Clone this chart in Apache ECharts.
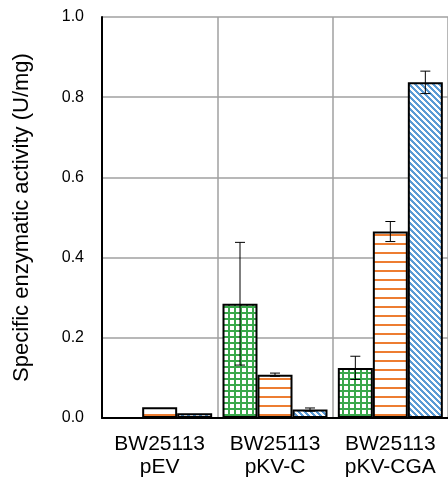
<!DOCTYPE html>
<html>
<head>
<meta charset="utf-8">
<script src="https://cdn.jsdelivr.net/npm/echarts@6/dist/echarts.min.js"></script>
<style>
html,body{margin:0;padding:0;background:#fff;}
#chart{width:448px;height:480px;}
</style>
</head>
<body>
<div id="chart"></div>
<script>
var categories = ['BW25113\npEV', 'BW25113\npKV-C', 'BW25113\npKV-CGA'];
var seriesNames = ['S1', 'S2', 'S3'];
var valuesGreen = [0, 0.285, 0.125];
var valuesOrange = [0.027, 0.108, 0.465];
var valuesBlue = [0.012, 0.021, 0.837];
var errGreen = [0, 0.153, 0.029];
var errOrange = [0, 0.004, 0.025];
var errBlue = [0, 0.004, 0.028];
var yTicks = [0, 0.2, 0.4, 0.6, 0.8, 1.0];

function makePattern(kind) {
  var c = document.createElement('canvas');
  var ctx;
  if (kind === 'grid') {
    c.width = 6; c.height = 6; ctx = c.getContext('2d');
    ctx.fillStyle = '#fff'; ctx.fillRect(0, 0, 6, 6);
    ctx.fillStyle = '#3aa84b';
    ctx.fillRect(0, 0, 2, 6); ctx.fillRect(0, 0, 6, 2);
  } else if (kind === 'hline') {
    c.width = 9; c.height = 9; ctx = c.getContext('2d');
    ctx.fillStyle = '#fff'; ctx.fillRect(0, 0, 9, 9);
    ctx.fillStyle = '#ed7d31'; ctx.fillRect(0, 0, 9, 2);
  } else {
    var n = 6;
    c.width = n; c.height = n; ctx = c.getContext('2d');
    ctx.fillStyle = '#fff'; ctx.fillRect(0, 0, n, n);
    ctx.fillStyle = '#5b9bd5';
    for (var x = 0; x < n; x++) for (var y = 0; y < n; y++) {
      var d = ((x - y) % n + n) % n;
      if (d < 3) ctx.fillRect(x, y, 1, 1);
    }
  }
  return {image: c, repeat: 'repeat'};
}

var BAR_W = 35;
var FONT = 'Liberation Sans, Arial, sans-serif';
var chart = echarts.init(document.getElementById('chart'), null, {renderer: 'canvas'});

function barSeries(name, data, pattern) {
  return {
    name: name, type: 'bar', data: data, barWidth: BAR_W, barGap: '0%',
    itemStyle: {color: makePattern(pattern), borderColor: '#000', borderWidth: 2},
    silent: true, z: 2
  };
}

function errSeries(vals, errs, idx) {
  var data = vals.map(function (v, i) { return [i, v, errs[i]]; });
  return {
    type: 'custom', z: 5, silent: true,
    data: data,
    renderItem: function (params, api) {
      var i = api.value(0), v = api.value(1), e = api.value(2);
      if (!e) return null;
      var off = (idx - 1) * BAR_W;
      var hi = api.coord([i, v + e]);
      var lo = api.coord([i, v - e]);
      var x = hi[0] + off;
      var cap = 5;
      var st = {stroke: '#000', lineWidth: 1};
      return {type: 'group', children: [
        {type: 'line', shape: {x1: x, y1: hi[1], x2: x, y2: lo[1]}, style: st},
        {type: 'line', shape: {x1: x - cap, y1: hi[1], x2: x + cap, y2: hi[1]}, style: st},
        {type: 'line', shape: {x1: x - cap, y1: lo[1], x2: x + cap, y2: lo[1]}, style: st}
      ]};
    }
  };
}

chart.setOption({
  animation: false,
  backgroundColor: '#fff',
  grid: {left: 102, top: 17, width: 349, height: 401, containLabel: false},
  xAxis: {
    type: 'category', data: categories,
    axisLine: {show: true, lineStyle: {color: '#000', width: 2}},
    axisTick: {show: false},
    splitLine: {show: true, interval: 0, lineStyle: {color: '#a0a0a0', width: 1.5}},
    axisLabel: {color: '#000', fontFamily: FONT, fontSize: 21, lineHeight: 23, margin: 15, interval: 0}
  },
  yAxis: {
    type: 'value', min: 0, max: 1.0, interval: 0.2,
    name: 'Specific enzymatic activity (U/mg)', nameLocation: 'middle', nameRotate: 90, nameGap: 69,
    nameTextStyle: {color: '#000', fontFamily: FONT, fontSize: 22},
    axisLine: {show: true, lineStyle: {color: '#000', width: 2}},
    axisTick: {show: false},
    splitLine: {show: true, lineStyle: {color: '#a0a0a0', width: 1.5}},
    axisLabel: {color: '#000', fontFamily: FONT, fontSize: 16, margin: 18,
      formatter: function (v) { return v.toFixed(1); }}
  },
  series: [
    barSeries(seriesNames[0], valuesGreen, 'grid'),
    barSeries(seriesNames[1], valuesOrange, 'hline'),
    barSeries(seriesNames[2], valuesBlue, 'diag'),
    errSeries(valuesGreen, errGreen, 0),
    errSeries(valuesOrange, errOrange, 1),
    errSeries(valuesBlue, errBlue, 2)
  ]
});
</script>
</body>
</html>
